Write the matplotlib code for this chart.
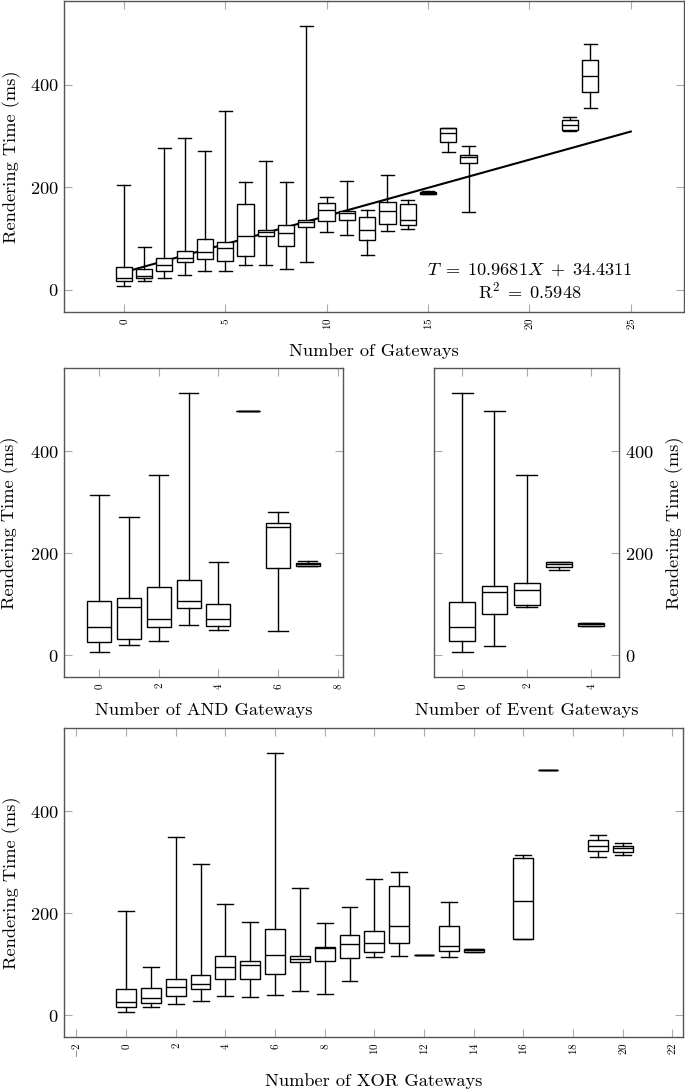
import numpy as np
import matplotlib
matplotlib.use("Agg")
import matplotlib.pyplot as plt

plt.rcParams['font.family'] = 'cmr10'
plt.rcParams['mathtext.fontset'] = 'cm'
plt.rcParams['axes.formatter.use_mathtext'] = True

# All gateways: lo, q1, median, q3, hi (ms)
all_pos = [0, 1, 2, 3, 4, 5, 6, 7, 8, 9, 10, 11, 12, 13, 14, 15, 16, 17, 22, 23]
all_lo = [8, 18, 23, 29, 36, 37, 48, 49, 40, 54, 113, 107, 69, 114, 119, 186, 268, 151, 310, 354]
all_q1 = [18, 24, 37, 55, 61, 57, 67, 106, 86, 123, 134, 137, 98, 129, 127, 187, 288, 248, 311, 386]
all_med = [24, 28, 49, 63, 73, 81, 106, 112, 110, 133, 156, 149, 116, 153, 136, 189, 305, 259, 321, 417]
all_q3 = [44, 40, 62, 76, 99, 93, 168, 116, 127, 136, 170, 153, 142, 172, 168, 191, 315, 263, 331, 448]
all_hi = [205, 84, 276, 296, 271, 349, 210, 251, 211, 514, 182, 213, 155, 223, 176, 192, 315, 281, 337, 480]

slope = 10.9681
intercept = 34.4311
r_squared = 0.5948
fit_x = [0, 25]

# AND gateways
and_pos = [0, 1, 2, 3, 4, 5, 6, 7]
and_lo = [7, 20, 27, 59, 49, 479, 47, 175]
and_q1 = [25, 31, 56, 93, 57, 479, 171, 175]
and_med = [55, 95, 71, 107, 71, 479, 251, 178]
and_q3 = [107, 111, 133, 147, 101, 479, 260, 181]
and_hi = [313, 271, 353, 513, 182, 479, 280, 184]

# Event gateways
evt_pos = [0, 1, 2, 3, 4]
evt_lo = [7, 18, 94, 167, 58]
evt_q1 = [27, 80, 99, 172, 58]
evt_med = [56, 123, 128, 179, 60]
evt_q3 = [105, 135, 141, 182, 62]
evt_hi = [513, 479, 353, 182, 62]

# XOR gateways
xor_pos = [0, 1, 2, 3, 4, 5, 6, 7, 8, 9, 10, 11, 12, 13, 14, 16, 17, 19, 20]
xor_lo = [7, 16, 21, 27, 37, 36, 39, 48, 41, 67, 113, 116, 117, 113, 124, 150, 481, 310, 313]
xor_q1 = [16, 24, 37, 51, 71, 71, 81, 104, 106, 112, 123, 142, 117, 126, 124, 150, 481, 321, 320]
xor_med = [26, 33, 56, 61, 95, 98, 117, 110, 131, 140, 142, 174, 117, 135, 127, 224, 481, 332, 328]
xor_q3 = [51, 53, 71, 79, 115, 107, 168, 115, 134, 157, 165, 254, 117, 174, 130, 309, 481, 344, 332]
xor_hi = [204, 95, 349, 296, 218, 182, 514, 250, 180, 212, 267, 281, 117, 222, 130, 313, 481, 354, 338]

W, H = 685, 1092
SPINE = '#555555'
TICK = '#aaaaaa'
FS = 13.2


def make_axes(fig, left, top, right, bottom):
    return fig.add_axes([left / W, 1 - bottom / H, (right - left) / W, (bottom - top) / H])


def draw_boxes(ax, pos, lo, q1, med, q3, hi):
    stats = []
    for i in range(len(pos)):
        stats.append({'whislo': lo[i], 'q1': q1[i], 'med': med[i],
                      'q3': q3[i], 'whishi': hi[i], 'fliers': []})
    ax.bxp(stats, positions=pos, widths=0.8, capwidths=0.64,
           patch_artist=True, showfliers=False, manage_ticks=False,
           boxprops=dict(facecolor='white', edgecolor='black', linewidth=1.0),
           medianprops=dict(color='black', linewidth=1.0),
           whiskerprops=dict(color='black', linewidth=1.0),
           capprops=dict(color='black', linewidth=1.0))


def style(ax, xticks, xlim, ylabel_right=False):
    ax.set_xlim(*xlim)
    ax.set_ylim(-43, 563)
    ax.set_xticks(xticks)
    ax.set_yticks([0, 200, 400])
    for s in ax.spines.values():
        s.set_color(SPINE)
        s.set_linewidth(1.0)
    ax.tick_params(direction='in', length=6, width=0.8, color=TICK,
                   top=True, right=True, left=True, bottom=True)
    ax.tick_params(axis='x', labelsize=8, labelrotation=90, pad=4)
    ax.tick_params(axis='y', labelsize=FS, pad=4)
    if ylabel_right:
        ax.yaxis.tick_right()
        ax.tick_params(axis='y', left=True, right=True, labelleft=False, labelright=True)
        ax.yaxis.set_label_position('right')
    ax.set_ylabel('Rendering Time (ms)', fontsize=FS)


fig = plt.figure(figsize=(W / 100, H / 100), dpi=100)

# top panel
ax1 = make_axes(fig, 64, 1, 683.5, 312)
line_x = np.array(fit_x)
ax1.plot(line_x, slope * line_x + intercept, color='black', linewidth=1.5, zorder=1)
draw_boxes(ax1, all_pos, all_lo, all_q1, all_med, all_q3, all_hi)
style(ax1, [0, 5, 10, 15, 20, 25], (-2.95, 27.6))
ax1.set_xlabel('Number of Gateways', fontsize=FS)
ax1.xaxis.set_label_coords(0.5, -0.1)
ax1.yaxis.set_label_coords(-0.07, 0.5)
ax1.text(20, 39, r'$T\;=\;10.9681X\;+\;34.4311$', fontsize=FS, ha='center', va='center')
ax1.text(20, -2, r'$\mathrm{R}^2\;=\;%.4f$' % r_squared, fontsize=FS, ha='center', va='center')

# AND panel
ax2 = make_axes(fig, 64, 368, 343, 677)
draw_boxes(ax2, and_pos, and_lo, and_q1, and_med, and_q3, and_hi)
style(ax2, [0, 2, 4, 6, 8], (-1.18, 8.18))
ax2.set_xlabel('Number of AND Gateways', fontsize=FS)
ax2.xaxis.set_label_coords(0.5, -0.081)
ax2.yaxis.set_label_coords(-0.16, 0.5)

# Event panel
ax3 = make_axes(fig, 433.7, 368, 619.3, 677)
draw_boxes(ax3, evt_pos, evt_lo, evt_q1, evt_med, evt_q3, evt_hi)
style(ax3, [0, 2, 4], (-0.89, 4.88), ylabel_right=True)
ax3.set_xlabel('Number of Event Gateways', fontsize=FS)
ax3.xaxis.set_label_coords(0.5, -0.081)
ax3.yaxis.set_label_coords(1.25, 0.5)

# XOR panel
ax4 = make_axes(fig, 64, 728, 683, 1037)
draw_boxes(ax4, xor_pos, xor_lo, xor_q1, xor_med, xor_q3, xor_hi)
style(ax4, list(range(-2, 23, 2)), (-2.5, 22.43))
ax4.set_xlabel('Number of XOR Gateways', fontsize=FS)
ax4.xaxis.set_label_coords(0.5, -0.117)
ax4.yaxis.set_label_coords(-0.07, 0.5)

fig.savefig('out.png', dpi=100)
